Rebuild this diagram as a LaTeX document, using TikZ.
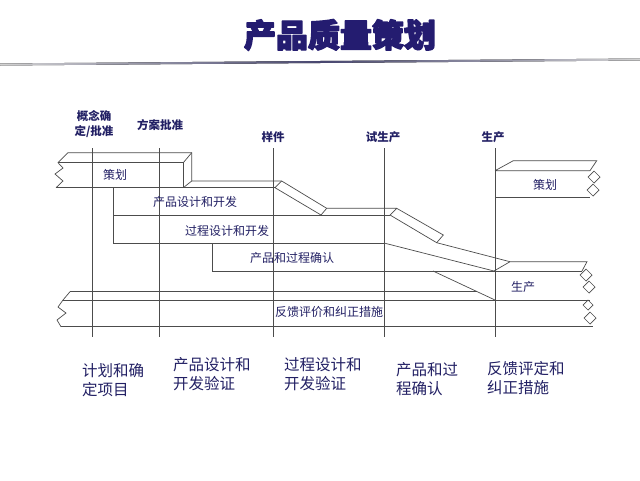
\documentclass[tikz,border=0pt]{standalone}
\usepackage{fontspec}
\setmainfont{Noto Sans CJK SC}
\definecolor{navy}{RGB}{34,32,100}
\definecolor{titleblue}{RGB}{36,28,112}

\begin{document}
\begin{tikzpicture}[x=1pt, y=-1pt,
        edge/.style={black!70, line width=0.7pt},
        toplabel/.style={navy, font=\fontsize{11.5}{15}\selectfont\bfseries, align=center, inner sep=0pt},
        boxlabel/.style={navy, font=\fontsize{12}{14}\selectfont, inner sep=0pt},
        phaselabel/.style={navy, font=\fontsize{15.5}{19}\selectfont, align=left, inner sep=0pt, anchor=north west}]
        
        \fill[white] (0,0) rectangle (640,480);
        \useasboundingbox (0,0) rectangle (640,480);
        
        \node[titleblue, font=\fontsize{32}{36}\selectfont\bfseries] (title) at (340,35) {\special{pdf:literal direct 1.4 w 1 j 2 Tr}产品质量策划\special{pdf:literal direct 0 Tr}};
        \fill[left color=gray!35, right color=gray!35, middle color=navy!60!gray] (0,63.5) -- (640,58.5) -- (640,60.5) -- (0,65.5) -- cycle;
        
        \draw[edge] (92,148) -- (92,337);
        \draw[edge] (159,148) -- (159,337);
        \draw[edge] (273,148) -- (273,337);
        \draw[edge] (384,148) -- (384,337);
        \draw[edge] (495,148) -- (495,337);
        
        \node[toplabel] (concept) at (94,124.5) {概念确\\定/批准};
        \node[toplabel] (scheme) at (160,125) {方案批准};
        \node[toplabel] (sample) at (273,137) {样件};
        \node[toplabel] (trial) at (383,137) {试生产};
        \node[toplabel] (launch) at (493,137) {生产};
        
        \draw[edge] (68,152.7) -- (191.7,152.7) -- (191.7,181) -- (281.7,181) -- (326.7,208.3) -- (396.7,208.3) -- (443.3,235) -- (436.7,242.7) -- (390,215) -- (396.7,208.3);
        \draw[edge] (183.3,162.7) -- (191.7,152.7);
        \draw[edge] (183.3,187.7) -- (191.7,181);
        \draw[edge] (281.7,181) -- (275,187.7) -- (321,215) -- (326.7,208.3);
        \draw[edge] (68,152.7) -- (58,162.7) -- (63,168) -- (55,174) -- (63,181) -- (56,187.7);
        
        \draw[edge] (58,162.7) -- (183.3,162.7) -- (183.3,187.7);
        \draw[edge] (56,187.7) -- (275,187.7);
        \draw[edge] (113,187.7) -- (113,243) -- (384,243);
        \draw[edge] (113,215) -- (390,215);
        \draw[edge] (212,243) -- (212,271) -- (582,271);
        \draw[edge] (384,243) -- (494,271) -- (510,261.7) -- (587,261.7) -- (582,271);
        \draw[edge] (436.7,242.7) -- (510,261.7);
        \draw[edge] (433,271) -- (495,300);
        
        \draw[edge] (70,291.7) -- (477,291.7);
        \draw[edge] (63,300) -- (590,300);
        \draw[edge] (61,326.7) -- (593,326.7);
        \draw[edge] (70,291.7) -- (63,300) -- (58,307) -- (66,313) -- (57,320) -- (61,326.7);
        
        \draw[edge] (495,170.7) -- (513.3,160.7) -- (596.7,160.7) -- (590,170.7) -- (495,170.7);
        \draw[edge] (495,197.3) -- (590,197.3);
        \draw[edge] (588,177) -- (594,171) -- (600,177) -- (594,183) -- cycle;
        \draw[edge] (587,190) -- (593,184) -- (599,190) -- (593,196) -- cycle;
        
        \draw[edge] (580,275) -- (586,269) -- (592,275) -- (586,281) -- cycle;
        \draw[edge] (583,287) -- (589,281) -- (595,287) -- (589,293) -- cycle;
        \draw[edge] (583,305) -- (588,300) -- (593,305) -- (588,310) -- cycle;
        \draw[edge] (584,318) -- (590,312) -- (596,318) -- (590,324) -- cycle;
        
        \node[boxlabel] (planleft) at (115,175) {策划};
        \node[boxlabel] (planright) at (545,185) {策划};
        \node[boxlabel] (product) at (195,202) {产品设计和开发};
        \node[boxlabel] (process) at (227,230.5) {过程设计和开发};
        \node[boxlabel] (validate) at (292,257.5) {产品和过程确认};
        \node[boxlabel] (production) at (523,287) {生产};
        \node[boxlabel] (feedback) at (329,312) {反馈评价和纠正措施};
        
        \node[phaselabel] (phaseone) at (82,363) {计划和确\\定项目};
        \node[phaselabel] (phasetwo) at (173,357) {产品设计和\\开发验证};
        \node[phaselabel] (phasethree) at (284,357) {过程设计和\\开发验证};
        \node[phaselabel] (phasefour) at (396,362) {产品和过\\程确认};
        \node[phaselabel] (phasefive) at (487,361) {反馈评定和\\纠正措施};
    
    \end{tikzpicture}
\end{document}
